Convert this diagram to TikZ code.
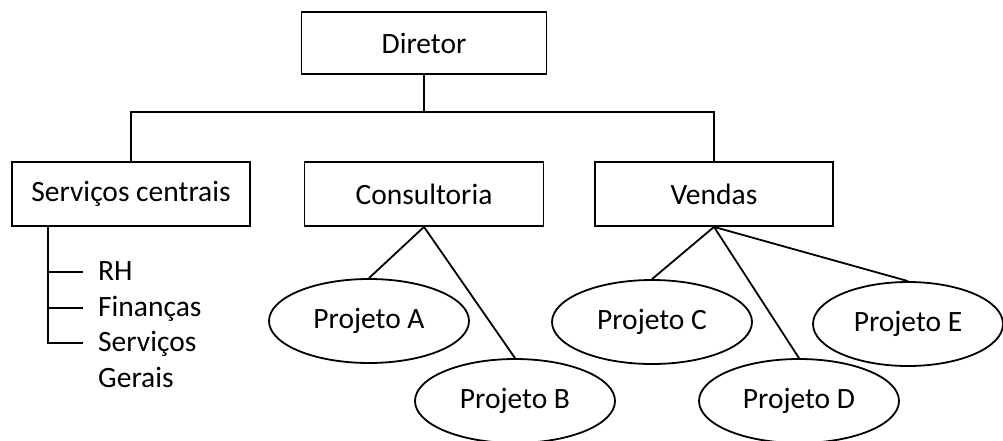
\documentclass[tikz,border=0pt]{standalone}
\usepackage{fontspec}
\setmainfont{Carlito}
\usepackage{tikz}
\usetikzlibrary{positioning,calc,shapes.geometric}

\begin{document}
\begin{tikzpicture}[x=1pt,y=-1pt,
			every node/.style={font=\fontsize{29.5}{35}\selectfont},
			unit/.style={rectangle,draw=black,line width=1.8pt,inner sep=0pt,minimum width=239pt,minimum height=64pt},
			proj/.style={ellipse,draw=black,line width=1.8pt,inner sep=0pt,minimum width=200pt,minimum height=84pt},
			item/.style={inner sep=0pt,anchor=base west},
			link/.style={black,line width=1.8pt}]
		\useasboundingbox (0,0) rectangle (1003,440);
		\path 	(424,43) 	node 	(dir)  [unit, minimum width=245pt, minimum height=62pt] {Diretor}
		        (131,194) 	node 	(sc)   [unit, minimum width=238pt] {Serviços centrais}
		        (424,194) 	node 	(cons) [unit] {Consultoria}
		        (714,194) 	node 	(vend) [unit, minimum width=238pt] {Vendas};
		\path 	(369,321) 	node 	(pa) [proj] {Projeto A}
		        (515,401) 	node 	(pb) [proj] {Projeto B}
		        (652,322) 	node 	(pc) [proj] {Projeto C}
		        (799,401) 	node 	(pd) [proj] {Projeto D}
		        (908,324) 	node 	(pe) [proj, minimum width=190pt] {Projeto E};
		% lista dos servicos centrais
		\path 	(98,280) 	node 	(rh)   [item] {RH}
		        (98,316) 	node 	(fin)  [item] {Finanças}
		        (98,351) 	node 	(serv) [item] {Serviços}
		        (98,387) 	node 	(ger)  [item] {Gerais};
		\coordinate (bus) at (424,112);
		\coordinate (stem) at (48,0);
		\draw [link] (dir) -- (bus) (sc.north) |- (bus) -| (vend.north);
		\draw [link] (pa.north) -- (cons.south) -- (pb.north);
		\draw [link] (pc.north) -- (vend.south) -- (pd.north) (vend.south) -- (pe.north);
		\draw [link] (stem |- sc.south) -- ($(stem |- serv.base west)+(0,-8)$) -- ([xshift=-15pt,yshift=8pt]serv.base west);
		\draw [link] ($(stem |- rh.base west)+(0,-8)$) -- ([xshift=-15pt,yshift=8pt]rh.base west)
		             ($(stem |- fin.base west)+(0,-8)$) -- ([xshift=-15pt,yshift=8pt]fin.base west);
	\end{tikzpicture}
\end{document}
